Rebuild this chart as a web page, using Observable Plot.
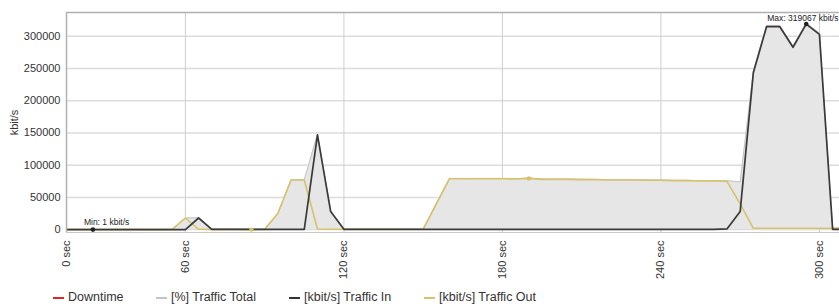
<!DOCTYPE html>
<html><head><meta charset="utf-8">
<script src="https://cdn.jsdelivr.net/npm/d3@7"></script>
<script src="https://cdn.jsdelivr.net/npm/@observablehq/plot@0.6"></script>
<style>
body{margin:0;background:#fff;font-family:"Liberation Sans",Arial,sans-serif;}
#wrap{position:relative;width:839px;height:306px;overflow:hidden;}
#legend{position:absolute;left:0;top:289px;width:839px;height:17px;font-size:12.5px;color:#333;}
.item{position:absolute;top:0;height:17px;line-height:17px;white-space:nowrap;}
.dash{position:absolute;top:8px;width:11px;height:2px;}
</style></head><body>
<div id="wrap"><div id="chart"></div><div id="legend"></div></div>
<script>
// sample times (sec) - first sample is labelled "0 sec"
const seconds = [15,20,25,30,35,40,45,50,55,60,65,70,75,80,85,90,95,100,105,110,115,120,125,130,135,140,145,150,155,160,165,170,175,180,185,190,195,200,205,210,215,220,225,230,235,240,245,250,255,260,265,270,275,280,285,290,295,300,305,310];
const trafficIn = [2,2,1,2,2,2,2,2,2,2,18000,500,500,500,500,500,500,500,500,147000,28000,500,500,500,500,500,500,500,500,500,500,500,500,500,500,500,500,500,500,500,500,500,500,500,500,500,500,500,500,500,1000,28000,244000,315000,315000,283000,319067,303000,500,500];
const trafficOut = [300,300,300,300,300,300,300,300,300,18000,500,300,300,300,0,300,25000,77000,77000,1000,500,500,500,500,500,500,500,500,40000,79000,79000,79000,79000,79000,78500,79500,78000,78000,78000,77500,77500,77000,77000,77000,76500,76500,76000,76000,75500,75500,75000,40000,2000,2000,2000,2000,2000,2000,2000,2000];
const trafficTotal = [300,300,300,300,300,300,300,300,300,18000,18500,800,800,800,500,800,25500,77500,77500,148000,29000,1000,1000,1000,1000,1000,1000,1000,40500,79500,79500,79500,79500,79500,79000,80000,78500,78500,78500,78000,78000,77500,77500,77500,77000,77000,76500,76500,76000,76000,76000,74000,246000,317000,317000,285000,321000,305000,2500,2500];
const xTickValues = [15,60,120,180,240,300];
const xTickLabels = ["0 sec","60 sec","120 sec","180 sec","240 sec","300 sec"];
const yTicks = [0,50000,100000,150000,200000,250000,300000];
const xDomain = [15,307.6];
const yDomain = [-4500,337000];
const minIn = {t:25, v:1, label:"Min: 1 kbit/s"};
const maxIn = {t:295, v:319067, label:"Max: 319067 kbit/s"};
const outMarks = [{t:85, v:0},{t:190, v:79500}];
const legendItems = [
  {label:"Downtime", color:"#e02424", x:53},
  {label:"[%] Traffic Total", color:"#c4c4c4", x:156},
  {label:"[kbit/s] Traffic In", color:"#333333", x:289},
  {label:"[kbit/s] Traffic Out", color:"#d6c26a", x:424}
];

const data = seconds.map((t,i)=>({t, inn:trafficIn[i], out:trafficOut[i], total:trafficTotal[i]}));

const chart = Plot.plot({
  width:839, height:289,
  marginLeft:66, marginTop:12, marginRight:0, marginBottom:57,
  style:{fontFamily:"'Liberation Sans',Arial,sans-serif", color:"#333", background:"#fff"},
  x:{domain:xDomain},
  y:{domain:yDomain},
  marks:[
    Plot.ruleY(yTicks,{stroke:"#dcdcdc", strokeWidth:1.5}),
    Plot.ruleX(xTickValues,{stroke:"#cfcfcf", strokeWidth:1}),
    Plot.areaY(data,{x:"t", y:"total", fill:"#e6e6e6", clip:true}),
    Plot.line(data,{x:"t", y:"total", stroke:"#c4c4c4", strokeWidth:1, clip:true}),
    Plot.line(data,{x:"t", y:"out", stroke:"#d6c26a", strokeWidth:1.6, clip:true}),
    Plot.line(data,{x:"t", y:"inn", stroke:"#3a3a3a", strokeWidth:1.7, clip:true}),
    Plot.dot(outMarks,{x:"t", y:"v", r:2.2, fill:"#d6c26a"}),
    Plot.dot([minIn,maxIn],{x:"t", y:"v", r:2.3, fill:"#222"}),
    Plot.text([minIn],{x:"t", y:"v", text:"label", textAnchor:"start", dx:-9, dy:-7, fontSize:8.5, fill:"#222"}),
    Plot.text([maxIn],{x:"t", y:"v", text:"label", textAnchor:"start", dx:-39, dy:-6, fontSize:8.5, fill:"#222"}),
    Plot.ruleX([xDomain[0]],{stroke:"#b0b0b0", strokeWidth:1.5}),
    Plot.ruleY([yDomain[1]],{stroke:"#b0b0b0", strokeWidth:1.5}),
    Plot.ruleY([yDomain[0]],{stroke:"#c8c8c8", strokeWidth:1}),
    Plot.axisY({ticks:yTicks, tickSize:0, tickPadding:6, tickFormat:d=>String(d), fontSize:11, label:"kbit/s", labelAnchor:"center", labelArrow:"none", labelOffset:56}),
    Plot.axisX({ticks:xTickValues, tickSize:0, tickPadding:8, tickRotate:-90, fontSize:11, tickFormat:d=>xTickLabels[xTickValues.indexOf(d)], label:null})
  ]
});
document.getElementById("chart").appendChild(chart);

const lg = document.getElementById("legend");
legendItems.forEach(it=>{
  const d = document.createElement("div");
  d.className="item"; d.style.left=it.x+"px";
  d.innerHTML = `<span class="dash" style="left:0;background:${it.color}"></span><span style="margin-left:15px">${it.label}</span>`;
  lg.appendChild(d);
});
</script>
</body></html>
